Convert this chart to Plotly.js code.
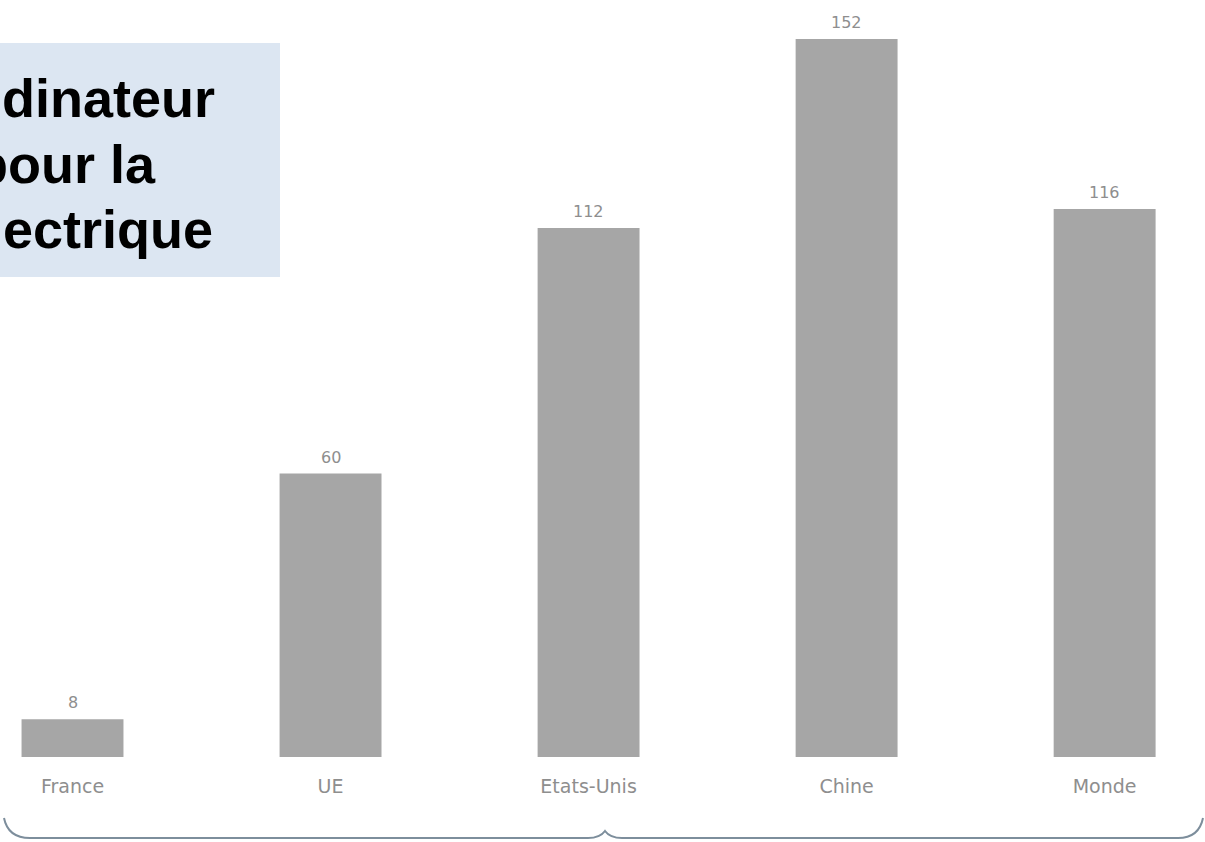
<!DOCTYPE html>
<html>
<head>
<meta charset="utf-8">
<script src="https://cdn.plot.ly/plotly-3.0.1.min.js"></script>
<style>
  html, body { margin: 0; padding: 0; background: #ffffff; }
  #chart { width: 1205px; height: 842px; }
</style>
</head>
<body>
<div id="chart"></div>
<script>
// Regions compared
const categories = ["France", "UE", "Etats-Unis", "Chine", "Monde"];
// Values shown above each bar
const values = [8, 60, 112, 152, 116];
// Heading lines (left part runs off the page edge)
const headingLines = ["dinateur", "pour la", "ectrique"];

const barColor = "#a6a6a6";
const labelColor = "#8e8e8e";
const labelFont = "'DejaVu Sans', 'Open Sans', sans-serif";

const trace = {
  type: "bar",
  x: categories,
  y: values,
  marker: { color: barColor, line: { width: 0 } },
  width: 0.395,
  hoverinfo: "skip"
};

// value labels sitting just above each bar
const valueLabels = categories.map((c, i) => ({
  xref: "x", yref: "y",
  x: c, y: values[i],
  xanchor: "center", yanchor: "bottom",
  yshift: 5,
  text: String(values[i]),
  showarrow: false,
  font: { family: labelFont, size: 16, color: labelColor }
}));

// heading block: light blue panel with bold text
const headingX = [0, -27, 1];
const headingY = [0.870, 0.784, 0.698];
const headingAnn = headingLines.map((line, i) => ({
  xref: "paper", yref: "paper",
  x: headingX[i] / 1205, y: headingY[i],
  xanchor: "left", yanchor: "middle",
  text: "<b>" + line + "</b>",
  showarrow: false,
  font: { family: "'Liberation Sans', Arial, sans-serif", size: 54, color: "#000000" }
}));

// curly bracket grouping all regions below the axis
const bracketPath = "M 4 818 Q 8 838 30 838 L 588 838 Q 600 838 605 831 Q 610 838 622 838 L 1178 838 Q 1199 838 1203 818";

const layout = {
  width: 1205,
  height: 842,
  margin: { l: 0, r: 0, t: 0, b: 85 },
  paper_bgcolor: "#ffffff",
  plot_bgcolor: "#ffffff",
  showlegend: false,
  xaxis: {
    type: "category",
    range: [-0.281, 4.389],
    showgrid: false, zeroline: false, showline: false,
    ticks: "", ticklabelstandoff: 16,
    tickfont: { family: labelFont, size: 19, color: labelColor }
  },
  yaxis: {
    range: [0, 160.25],
    visible: false, showgrid: false, zeroline: false
  },
  shapes: [
    {
      type: "rect", xref: "paper", yref: "paper",
      x0: 0, x1: 280 / 1205, y0: (842 - 85 - 277) / 757, y1: (842 - 85 - 43) / 757,
      fillcolor: "#dce6f2", line: { width: 0 }, layer: "below"
    }
  ],
  annotations: headingAnn.concat(valueLabels)
};

Plotly.newPlot("chart", [trace], layout, { displayModeBar: false, staticPlot: true }).then(() => {
  // bracket drawn in pixel space over the whole figure
  const svgs = document.querySelectorAll("#chart .main-svg");
  const svg = svgs[svgs.length - 1];
  const ns = "http://www.w3.org/2000/svg";
  const p = document.createElementNS(ns, "path");
  p.setAttribute("d", bracketPath);
  p.setAttribute("fill", "none");
  p.setAttribute("stroke", "#7d8e9c");
  p.setAttribute("stroke-width", "2");
  svg.appendChild(p);
});
</script>
</body>
</html>
